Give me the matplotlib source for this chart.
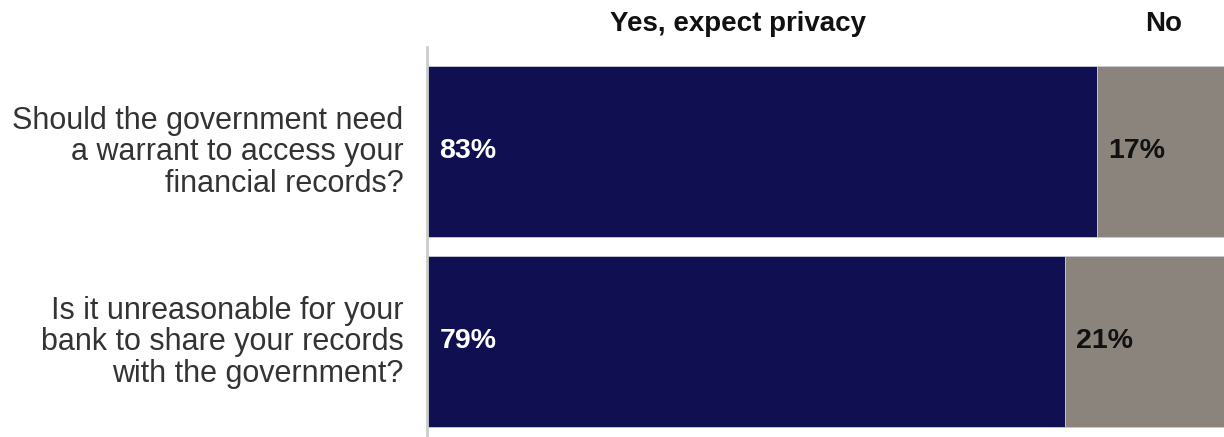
import matplotlib
matplotlib.use("Agg")
import matplotlib.pyplot as plt
import matplotlib.transforms as mtransforms

plt.rcParams['font.family'] = ['Liberation Sans', 'DejaVu Sans']

questions = [
    "Should the government need\na warrant to access your\nfinancial records?",
    "Is it unreasonable for your\nbank to share your records\nwith the government?",
]
yes_values = [83, 79]
no_values = [17, 21]
series_names = ["Yes, expect privacy", "No"]

YES_COLOR = "#0f0f52"
NO_COLOR = "#8b847d"

fig = plt.figure(figsize=(12.24, 4.37), dpi=100)
# axes spans from the vertical rule to the right edge
ax = fig.add_axes([427 / 1224, 0.0, 797 / 1224, 390 / 437])

ypos = list(range(len(questions)))
bar_h = 0.9
ax.barh(ypos, yes_values, height=bar_h, color=YES_COLOR,
        edgecolor="#c9c9d4", linewidth=0.6)
ax.barh(ypos, no_values, left=yes_values, height=bar_h, color=NO_COLOR,
        edgecolor="#c9c9d4", linewidth=0.6)

ax.set_xlim(0, 98.76)
ax.set_ylim(1.503, -0.55)

for y, yv, nv in zip(ypos, yes_values, no_values):
    ax.annotate(f"{yv}%", xy=(0, y), xytext=(9, 0), textcoords="offset points",
                ha="left", va="center", color="white", fontsize=20.5,
                fontweight="bold")
    ax.annotate(f"{nv}%", xy=(yv, y), xytext=(8.5, 0), textcoords="offset points",
                ha="left", va="center", color="#111111", fontsize=20.5,
                fontweight="bold")

ax.set_yticks(ypos)
ax.set_yticklabels(questions, fontsize=22, color="#333333",
                   linespacing=1.08, ha="right")
ax.tick_params(axis="y", length=0, pad=17)
ax.set_xticks([])
# nudge the question labels up slightly
lift = mtransforms.ScaledTranslation(0, 3.5 / 100, fig.dpi_scale_trans)
for lbl in ax.get_yticklabels():
    lbl.set_transform(lbl.get_transform() + lift)

for side in ("top", "right", "bottom"):
    ax.spines[side].set_visible(False)
ax.spines["left"].set_color("#cccccc")
ax.spines["left"].set_linewidth(2)

# column headers above the bars
fig.text(738 / 1224, 1 - 24 / 437, series_names[0], ha="center", va="center",
         fontsize=20, fontweight="bold", color="#111111")
fig.text(1164 / 1224, 1 - 24 / 437, series_names[1], ha="center", va="center",
         fontsize=20, fontweight="bold", color="#111111")

fig.savefig("out.png", dpi=100, facecolor="white")
